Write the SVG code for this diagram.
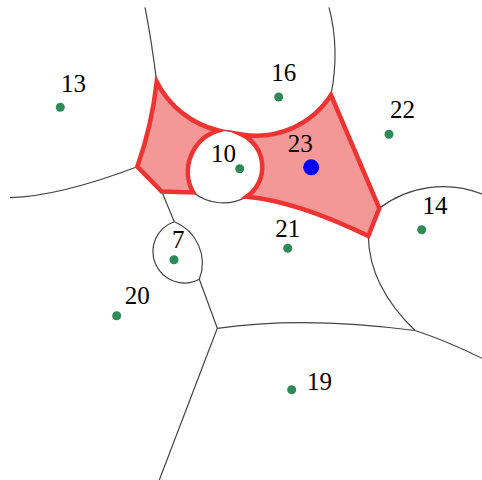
<svg xmlns="http://www.w3.org/2000/svg" width="482" height="480" viewBox="0 0 482 480">
<style>
.edge{fill:none;stroke:#444;stroke-width:1.2}
.region{fill:#f49797;stroke:#ee3333;stroke-width:4.5;stroke-linejoin:miter;stroke-miterlimit:10}
.site{fill:#2e8b57}
.lbl{font-family:"Liberation Serif","DejaVu Serif",serif;font-size:25px;fill:#000;text-anchor:middle}
</style>
<rect width="482" height="480" fill="#fff"/>
<g id="connectors">
<path class="edge" d="M145 7.3 Q151.5 40 156.7 81.7"/>
<path class="edge" d="M329 7.3 Q340 49 331 95"/>
<path class="edge" d="M10 197.7 Q60 196 137.3 166.7"/>
<path class="edge" d="M161.7 191.5 L174.3 221.7"/>
<path class="edge" d="M174.3 221.7 A31.5 31.5 0 1 0 199.3 279.3 A44.7 44.7 0 0 0 174.3 221.7"/>
<path class="edge" d="M199.3 279.3 L217.3 328.3 L159.3 480"/>
<path class="edge" d="M217.3 328.3 Q304.2 315.8 415 330.5"/>
<path class="edge" d="M415 330.5 Q447 341 482 358.3"/>
<path class="edge" d="M368.3 236 Q369 286 415 330.5"/>
<path class="edge" d="M379.3 208.3 A105 105 0 0 1 482 194"/>
<path class="edge" d="M193.3 192.5 A48 48 0 0 0 246.7 196.7"/>
<path class="edge" d="M218.3 130.5 A60 60 0 0 1 241.7 134.5"/>
</g>
<g id="cell23">
<path class="region" d="M156.7 81.7 A93.5 93.5 0 0 0 218.3 130.5 A43 43 0 0 0 193.3 192.5 L161.7 191.5 L137.3 166.7 Q152 125 156.7 81.7 Z"/>
<path class="region" d="M241.7 134.5 A89 89 0 0 0 331 95 L379.3 208.3 L368.3 236 Q296 201 246.7 196.7 A36 36 0 0 0 241.7 134.5 Z"/>
</g>
<g id="n13"><circle class="site" cx="60.3" cy="107.3" r="4.5"/><text class="lbl" x="73.5" y="91.7">13</text></g>
<g id="n16"><circle class="site" cx="278.7" cy="97" r="4.5"/><text class="lbl" x="283.8" y="81">16</text></g>
<g id="n22"><circle class="site" cx="389" cy="134.3" r="4.5"/><text class="lbl" x="402.5" y="118.3">22</text></g>
<g id="n10"><circle class="site" cx="239.7" cy="168.7" r="4.5"/><text class="lbl" x="223.5" y="162.3">10</text></g>
<g id="n23"><circle cx="311.2" cy="167.3" r="8" fill="#0000ff"/><text class="lbl" x="300.2" y="151.7">23</text></g>
<g id="n14"><circle class="site" cx="421.7" cy="229.7" r="4.5"/><text class="lbl" x="435" y="214.3">14</text></g>
<g id="n21"><circle class="site" cx="287.7" cy="248.3" r="4.5"/><text class="lbl" x="287.7" y="236.7">21</text></g>
<g id="n7"><circle class="site" cx="174" cy="259.7" r="4.5"/><text class="lbl" x="178.2" y="248.3">7</text></g>
<g id="n20"><circle class="site" cx="116.7" cy="315.7" r="4.5"/><text class="lbl" x="137.2" y="304">20</text></g>
<g id="n19"><circle class="site" cx="291.7" cy="389.7" r="4.5"/><text class="lbl" x="319.5" y="390">19</text></g>
</svg>
